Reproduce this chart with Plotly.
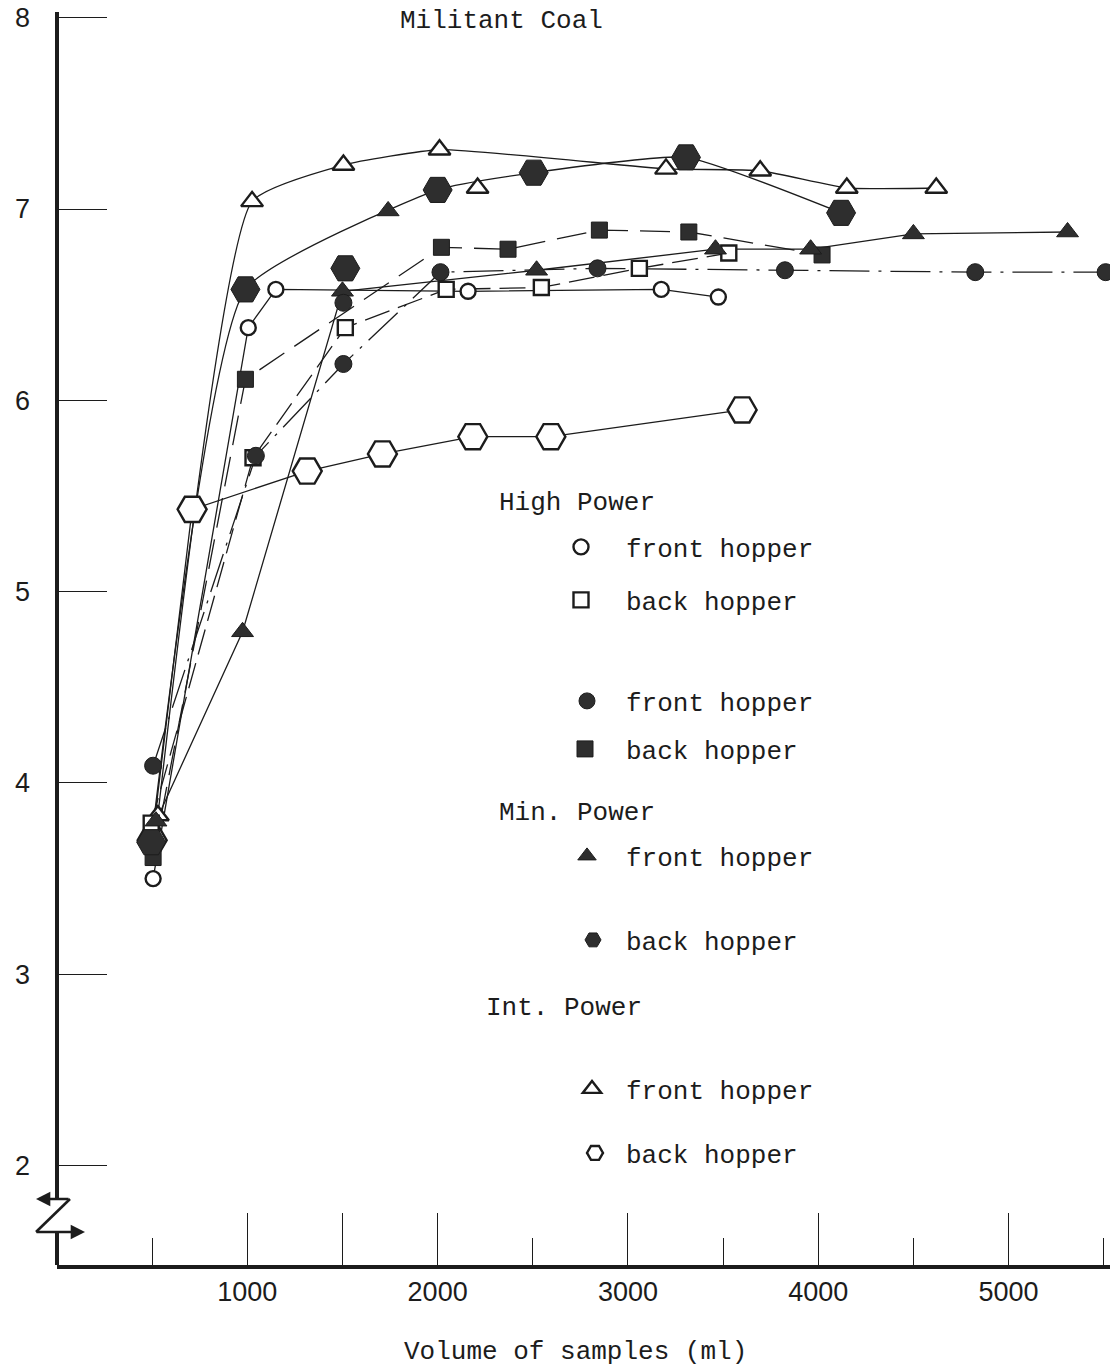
import plotly.graph_objects as go

# ---- measured data: volume of samples (ml) vs reading ----
hp_front_x = [505, 1005, 1150, 2160, 3175, 3475]
hp_front_y = [3.50, 6.38, 6.58, 6.57, 6.58, 6.54]

hp_back_x = [495, 1030, 1515, 2045, 2545, 3060, 3530]
hp_back_y = [3.79, 5.70, 6.38, 6.58, 6.59, 6.69, 6.77]

fc_front_x = [505, 1045, 1505, 2015, 2840, 3825, 4825, 5510]
fc_front_y = [4.09, 5.71, 6.19, 6.67, 6.69, 6.68, 6.67, 6.67]
fc_front_extra_x = [1505]
fc_front_extra_y = [6.51]

fs_back_x = [505, 990, 2020, 2370, 2850, 3320, 4020]
fs_back_y = [3.61, 6.11, 6.80, 6.79, 6.89, 6.88, 6.76]

min_front_x = [520, 975, 1500, 2520, 3460, 3960, 4500, 5310]
min_front_y = [3.80, 4.79, 6.57, 6.68, 6.79, 6.79, 6.87, 6.88]
min_front_extra_x = [1740]
min_front_extra_y = [6.99]

min_back_x = [495, 990, 2000, 2505, 3305, 4120]
min_back_y = [3.69, 6.58, 7.10, 7.19, 7.27, 6.98]
min_back_extra_x = [1515]
min_back_extra_y = [6.69]

int_front_x = [530, 1025, 1505, 2010, 3200, 3695, 4150, 4620]
int_front_y = [3.83, 7.04, 7.23, 7.31, 7.21, 7.20, 7.11, 7.11]
int_front_extra_x = [2210]
int_front_extra_y = [7.11]

int_back_x = [500, 710, 1315, 1710, 2185, 2595, 3600]
int_back_y = [3.70, 5.43, 5.63, 5.72, 5.81, 5.81, 5.95]

x_major_ticks = [1000, 1500, 2000, 3000, 4000, 5000]
x_major_text = ["1000", "", "2000", "3000", "4000", "5000"]
x_minor_ticks = [500, 2500, 3500, 4500, 5500]
y_ticks = [2, 3, 4, 5, 6, 7, 8]

INK = "#1c1c1c"
FILL = "#2e2e2e"
MONO = "Liberation Mono, Courier New, monospace"
SANS = "Liberation Sans, Arial, sans-serif"

W, H = 1110, 1368
ML, MR, MT, MB = 57, 0, 12, 103
X_RANGE = [0, 5533]
Y_RANGE = [1.48, 8.03]
PW, PH = W - ML - MR, H - MT - MB


def px_to_paper_x(px):
    return (px - ML) / PW


def py_to_paper_y(py):
    return (H - MB - py) / PH


def py_to_y(py):
    return Y_RANGE[1] - (py - MT) / PH * (Y_RANGE[1] - Y_RANGE[0])


open_mk = dict(color="white", line=dict(color=INK, width=2.4))
solid_mk = dict(color=FILL, line=dict(color=INK, width=1))

series = [
    dict(x=hp_front_x, y=hp_front_y, sym="circle", size=15, mk=open_mk,
         dash="solid", shape="linear"),
    dict(x=hp_back_x, y=hp_back_y, sym="square", size=15, mk=open_mk,
         dash="26px,9px", shape="linear"),
    dict(x=fc_front_x, y=fc_front_y, sym="circle", size=17, mk=solid_mk,
         dash="40px,9px,3px,9px", shape="linear"),
    dict(x=fs_back_x, y=fs_back_y, sym="square", size=16, mk=solid_mk,
         dash="30px,12px", shape="linear"),
    dict(x=min_front_x, y=min_front_y, sym="triangle-up", size=19, mk=solid_mk,
         dash="solid", shape="linear"),
    dict(x=min_back_x, y=min_back_y, sym="hexagon2", size=29, mk=solid_mk,
         dash="solid", shape="spline"),
    dict(x=int_front_x, y=int_front_y, sym="triangle-up", size=19, mk=open_mk,
         dash="solid", shape="spline"),
    dict(x=int_back_x, y=int_back_y, sym="hexagon2", size=29, mk=open_mk,
         dash="solid", shape="linear"),
]

extras = [
    (fc_front_extra_x, fc_front_extra_y, 2),
    (min_front_extra_x, min_front_extra_y, 4),
    (min_back_extra_x, min_back_extra_y, 5),
    (int_front_extra_x, int_front_extra_y, 6),
]

fig = go.Figure()

# connecting lines first so that markers sit on top of them
for s in series:
    fig.add_trace(go.Scatter(
        x=s["x"], y=s["y"], mode="lines", showlegend=False, hoverinfo="skip",
        line=dict(color=INK, width=1.3, dash=s["dash"], shape=s["shape"],
                  smoothing=0.45),
    ))

# open hexagons underneath, filled symbols on top
marker_order = [7, 6, 0, 1, 2, 3, 4, 5]
for idx in marker_order:
    s = series[idx]
    fig.add_trace(go.Scatter(
        x=s["x"], y=s["y"], mode="markers", showlegend=False,
        marker=dict(symbol=s["sym"], size=s["size"], **s["mk"]),
    ))

for ex_x, ex_y, idx in extras:
    s = series[idx]
    fig.add_trace(go.Scatter(
        x=ex_x, y=ex_y, mode="markers", showlegend=False,
        marker=dict(symbol=s["sym"], size=s["size"], **s["mk"]),
    ))

# key entries: (series index, label, symbol centre px, text row px)
keys = [
    (0, "front hopper", 581, 547),
    (1, "back hopper", 581, 600),
    (2, "front hopper", 587, 701),
    (3, "back hopper", 585, 749),
    (4, "front hopper", 587, 856),
    (5, "back hopper", 593, 940),
    (6, "front hopper", 592, 1089),
    (7, "back hopper", 595, 1153),
]
TEXT_PX = 626
legends = {}
for i, (idx, label, sym_px, row_px) in enumerate(keys):
    s = series[idx]
    lname = "legend" if i == 0 else f"legend{i + 1}"
    iw = max(30, int(round(2 * (TEXT_PX - sym_px - 5))))
    fig.add_trace(go.Scatter(
        x=[None], y=[None], mode="markers", name=label, legend=lname,
        showlegend=True,
        marker=dict(symbol=s["sym"], size=s["size"], **s["mk"]),
    ))
    legends[lname] = dict(
        x=px_to_paper_x(TEXT_PX - iw - 10), y=py_to_paper_y(row_px),
        xanchor="left", yanchor="middle", itemwidth=iw,
        bgcolor="rgba(0,0,0,0)", borderwidth=0,
        font=dict(family=MONO, size=26, color=INK),
    )

annotations = [
    dict(text="Militant Coal", x=px_to_paper_x(398), y=py_to_paper_y(21)),
    dict(text="High Power", x=px_to_paper_x(497), y=py_to_paper_y(503)),
    dict(text="Min. Power", x=px_to_paper_x(497), y=py_to_paper_y(813)),
    dict(text="Int. Power", x=px_to_paper_x(484), y=py_to_paper_y(1008)),
]
ann = []
for a in annotations:
    ann.append(dict(text=a["text"], x=a["x"], y=a["y"], xref="paper",
                    yref="paper", xanchor="left", yanchor="middle",
                    showarrow=False, font=dict(family=MONO, size=26, color=INK)))
ann.append(dict(text="Volume of samples (ml)", x=px_to_paper_x(575),
                y=py_to_paper_y(1352), xref="paper", yref="paper",
                xanchor="center", yanchor="middle", showarrow=False,
                font=dict(family=MONO, size=26, color=INK)))

# axis break arrows
y_top_brk = py_to_y(1199)
y_bot_brk = py_to_y(1232)
ann.append(dict(text="", x=px_to_paper_x(36), y=y_top_brk, xref="paper",
                yref="y", showarrow=True, ax=34, ay=0, arrowhead=2,
                arrowsize=1.1, arrowwidth=2.6, arrowcolor=INK))
ann.append(dict(text="", x=px_to_paper_x(85), y=y_bot_brk, xref="paper",
                yref="y", showarrow=True, ax=-50, ay=0, arrowhead=2,
                arrowsize=1.1, arrowwidth=2.6, arrowcolor=INK))

shapes = [
    # broken vertical axis
    dict(type="line", xref="paper", yref="y", x0=0, x1=0,
         y0=y_top_brk, y1=Y_RANGE[1], line=dict(color=INK, width=4)),
    dict(type="line", xref="paper", yref="y", x0=0, x1=0,
         y0=Y_RANGE[0], y1=y_bot_brk, line=dict(color=INK, width=4)),
    # diagonal of the break symbol
    dict(type="line", xref="paper", yref="y", x0=px_to_paper_x(70),
         x1=px_to_paper_x(36), y0=y_top_brk, y1=y_bot_brk,
         line=dict(color=INK, width=2.6)),
]

fig.update_layout(
    width=W, height=H,
    margin=dict(l=ML, r=MR, t=MT, b=MB),
    paper_bgcolor="white", plot_bgcolor="white",
    showlegend=True,
    annotations=ann,
    shapes=shapes,
    **legends,
    xaxis=dict(
        range=X_RANGE, showgrid=False, zeroline=False,
        showline=True, linewidth=4, linecolor=INK,
        ticks="inside", ticklen=52, tickwidth=1.3, tickcolor=INK,
        tickmode="array", tickvals=x_major_ticks, ticktext=x_major_text,
        tickfont=dict(family=SANS, size=27, color=INK),
        minor=dict(tickmode="array", tickvals=x_minor_ticks, ticks="inside",
                   ticklen=27, tickwidth=1.3, tickcolor=INK, showgrid=False),
    ),
    yaxis=dict(
        range=Y_RANGE, showgrid=False, zeroline=False, showline=False,
        ticks="inside", ticklen=50, tickwidth=1.3, tickcolor=INK,
        tickmode="array", tickvals=y_ticks,
        tickfont=dict(family=SANS, size=27, color=INK),
        ticklabelstandoff=26,
    ),
)

fig.write_html("out.html")
